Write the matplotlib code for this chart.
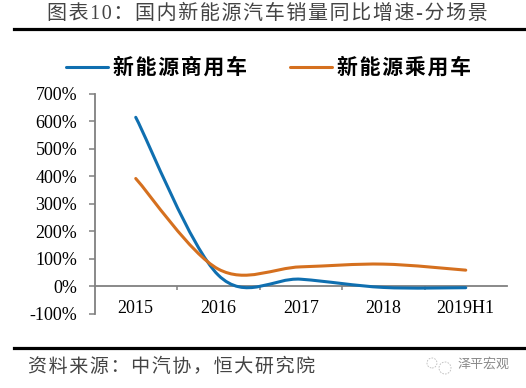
import numpy as np
import matplotlib
matplotlib.use("Agg")
import matplotlib.pyplot as plt
from matplotlib.path import Path
from matplotlib.patches import PathPatch, Circle
from matplotlib.transforms import IdentityTransform
from matplotlib.ticker import FuncFormatter

categories = ["2015", "2016", "2017", "2018", "2019H1"]
commercial = [615, 40, 25, -5, -6]
passenger = [392, 62, 70, 80, 58]
name_commercial = "新能源商用车"
name_passenger = "新能源乘用车"
title = "图表10:国内新能源汽车销量同比增速-分场景".replace(":", "：")
source = "资料来源:中汽协,恒大研究院".replace(":", "：").replace(",", "，")
mark = "泽平宏观"

HAIR = "\u200a"


def spaced(s):
    return HAIR.join(s)


W, H = 526, 388
SERIF = ["Liberation Serif", "Noto Sans CJK SC"]
CJK = ["Noto Sans CJK SC", "Liberation Serif"]
fig = plt.figure(figsize=(W / 100, H / 100), dpi=100)
ax = fig.add_axes([94.5 / W, 1 - 313.5 / H, (507 - 94.5) / W, (313.5 - 94) / H])
ax.set_xlim(-0.5, 4.5)
ax.set_ylim(-100, 700)
ax.patch.set_alpha(0)

GREY = "#808080"
for s in ("top", "right"):
    ax.spines[s].set_visible(False)
ax.spines["left"].set_color(GREY)
ax.spines["left"].set_linewidth(1.3)
ax.spines["bottom"].set_position(("data", 0))
ax.spines["bottom"].set_color(GREY)
ax.spines["bottom"].set_linewidth(1.3)

ax.set_yticks(np.arange(-100, 701, 100))
ax.yaxis.set_major_formatter(FuncFormatter(lambda v, _: f"{v:.0f}%"))
ax.tick_params(axis="y", length=4.5, width=1.1, color=GREY, pad=8, labelsize=13)
n = len(categories)
ax.set_xticks(np.arange(n - 1) + 0.5)
ax.set_xticklabels([""] * (n - 1))
ax.tick_params(axis="x", length=3.0, width=1.1, color=GREY)
for lab in ax.get_yticklabels():
    lab.set_family(SERIF)
for i, c in enumerate(categories):
    ax.annotate(c, (i, 0), xytext=(0, -22), xycoords="data", textcoords="offset pixels",
                ha="center", va="center", family=SERIF, fontsize=13, color="black")


def smooth_path(vals, tension=6.0):
    y = np.asarray(vals, float)
    x = np.arange(len(y), dtype=float)
    verts = [(x[0], y[0])]
    codes = [Path.MOVETO]
    for i in range(len(y) - 1):
        a = max(i - 1, 0)
        b = min(i + 2, len(y) - 1)
        c1 = (x[i] + (x[i + 1] - x[a]) / tension, y[i] + (y[i + 1] - y[a]) / tension)
        c2 = (x[i + 1] - (x[b] - x[i]) / tension, y[i + 1] - (y[b] - y[i]) / tension)
        verts += [c1, c2, (x[i + 1], y[i + 1])]
        codes += [Path.CURVE4] * 3
    return Path(verts, codes)


BLUE, ORANGE = "#0f6fb0", "#d5701f"
for vals, col in ((commercial, BLUE), (passenger, ORANGE)):
    ax.add_patch(PathPatch(smooth_path(vals), fill=False, edgecolor=col, lw=2.2, capstyle="round", zorder=3))


def px(x, y):
    return x / W, 1 - y / H


def rule(y, x0=14, x1=526, lw=2.3):
    fig.add_artist(plt.Line2D([x0 / W, x1 / W], [1 - y / H] * 2, color="black", lw=lw))


rule(28.5)
rule(347.5)
fig.text(*px(267.5, 14), spaced(title), ha="center", va="center", family=SERIF, fontsize=14.4, color="#444444")
for x0, col, name, tx in ((66, BLUE, name_commercial, 113), (290, ORANGE, name_passenger, 337)):
    fig.add_artist(plt.Line2D([x0 / W, (x0 + 42) / W], [1 - 67 / H] * 2, color=col, lw=2.2, solid_capstyle="round"))
    fig.text(*px(tx, 67), spaced(name), ha="left", va="center", family=CJK, fontweight="bold", fontsize=15, color="black")
fig.text(*px(28, 366), spaced(source), ha="left", va="center", family=CJK, fontsize=13.7, color="#444444")
fig.text(*px(458, 364), mark, ha="left", va="center", family=CJK, fontsize=9.4, color="#8a8a8a")
for cx, cy, r in ((432, 363, 5), (445, 368, 6)):
    fig.add_artist(Circle((cx, H - cy), r, transform=IdentityTransform(),
                          fill=False, ec="#bbbbbb", lw=0.6, ls=(0, (2, 1.5))))
fig.savefig("out.png", dpi=100)
